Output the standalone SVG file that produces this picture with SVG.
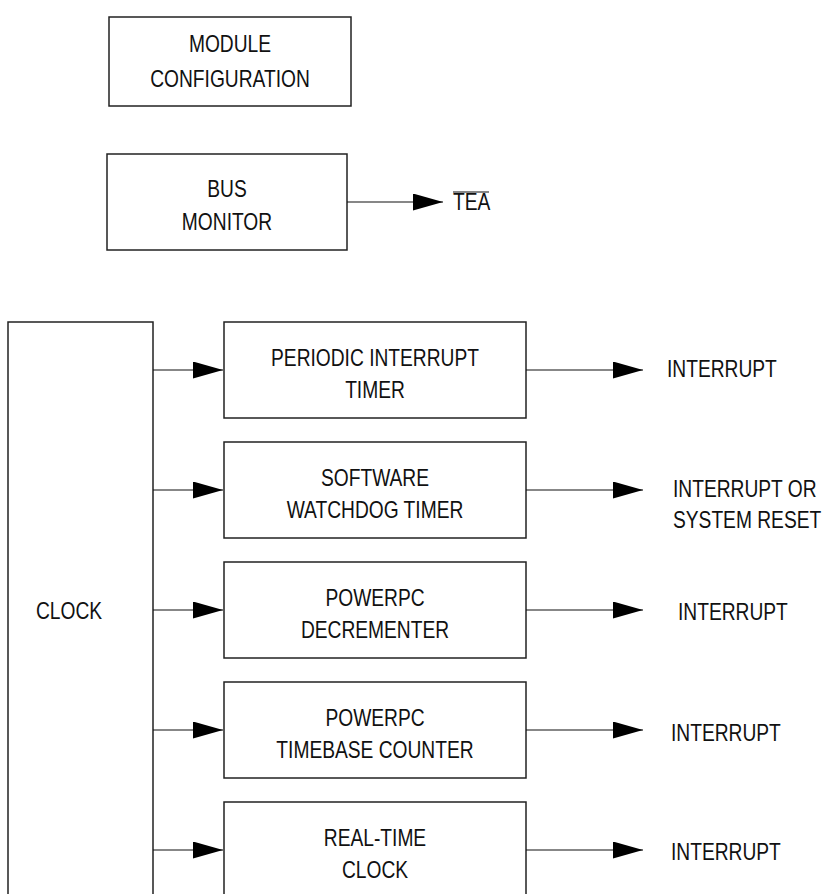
<svg xmlns="http://www.w3.org/2000/svg" width="826" height="894" viewBox="0 0 826 894">
<style>
.box{fill:#fff;stroke:#222;stroke-width:1.5}
.t{font-family:'Liberation Sans',Arial,sans-serif;font-size:24px;fill:#111;transform-box:fill-box;transform:scaleX(0.8)}
.c{text-anchor:middle;transform-origin:center}
.s{transform-origin:left}
.w{stroke:#111;stroke-width:1.2;fill:none}
</style>
<defs>
<marker id="ah" markerUnits="userSpaceOnUse" markerWidth="31" markerHeight="18" refX="30" refY="8.5" orient="auto">
<path d="M0,0 L30,8.5 L0,17 z" fill="#000"/>
</marker>
</defs>
<rect width="826" height="894" fill="#fff"/>
<g id="module-config">
<rect class="box" x="109" y="17" width="242" height="89"/>
<text class="t c" x="230" y="52">MODULE</text>
<text class="t c" x="230" y="87">CONFIGURATION</text>
</g>
<g id="bus-monitor">
<rect class="box" x="107" y="154" width="240" height="96"/>
<text class="t c" x="227" y="197">BUS</text>
<text class="t c" x="227" y="230">MONITOR</text>
</g>
<g id="tea">
<text class="t s" x="453" y="210">TEA</text>
<line x1="453" y1="192" x2="489" y2="192" stroke="#111" stroke-width="1.2"/>
</g>
<g id="clock">
<path class="box" d="M8,900 V322 H153 V900"/>
<text class="t s" x="36" y="619">CLOCK</text>
</g>
<g id="pit">
<rect class="box" x="224" y="322" width="302" height="96"/>
<text class="t c" x="375" y="366">PERIODIC INTERRUPT</text>
<text class="t c" x="375" y="398">TIMER</text>
</g>
<g id="swt">
<rect class="box" x="224" y="442" width="302" height="96"/>
<text class="t c" x="375" y="486">SOFTWARE</text>
<text class="t c" x="375" y="518">WATCHDOG TIMER</text>
</g>
<g id="dec">
<rect class="box" x="224" y="562" width="302" height="96"/>
<text class="t c" x="375" y="606">POWERPC</text>
<text class="t c" x="375" y="638">DECREMENTER</text>
</g>
<g id="tb">
<rect class="box" x="224" y="682" width="302" height="96"/>
<text class="t c" x="375" y="726">POWERPC</text>
<text class="t c" x="375" y="758">TIMEBASE COUNTER</text>
</g>
<g id="rtc">
<rect class="box" x="224" y="802" width="302" height="96"/>
<text class="t c" x="375" y="846">REAL-TIME</text>
<text class="t c" x="375" y="878">CLOCK</text>
</g>
<g id="outputs">
<text class="t s" x="667" y="377">INTERRUPT</text>
<text class="t s" x="673" y="497">INTERRUPT OR</text>
<text class="t s" x="673" y="528">SYSTEM RESET</text>
<text class="t s" x="678" y="620">INTERRUPT</text>
<text class="t s" x="671" y="741">INTERRUPT</text>
<text class="t s" x="671" y="860">INTERRUPT</text>
</g>
<g id="connectors">
<line class="w" x1="347" y1="202" x2="443" y2="202" marker-end="url(#ah)"/>
<line class="w" x1="153" y1="370" x2="223" y2="370" marker-end="url(#ah)"/>
<line class="w" x1="153" y1="490" x2="223" y2="490" marker-end="url(#ah)"/>
<line class="w" x1="153" y1="610" x2="223" y2="610" marker-end="url(#ah)"/>
<line class="w" x1="153" y1="730" x2="223" y2="730" marker-end="url(#ah)"/>
<line class="w" x1="153" y1="850" x2="223" y2="850" marker-end="url(#ah)"/>
<line class="w" x1="526" y1="370" x2="643" y2="370" marker-end="url(#ah)"/>
<line class="w" x1="526" y1="490" x2="643" y2="490" marker-end="url(#ah)"/>
<line class="w" x1="526" y1="610" x2="643" y2="610" marker-end="url(#ah)"/>
<line class="w" x1="526" y1="730" x2="643" y2="730" marker-end="url(#ah)"/>
<line class="w" x1="526" y1="850" x2="643" y2="850" marker-end="url(#ah)"/>
</g>
</svg>
